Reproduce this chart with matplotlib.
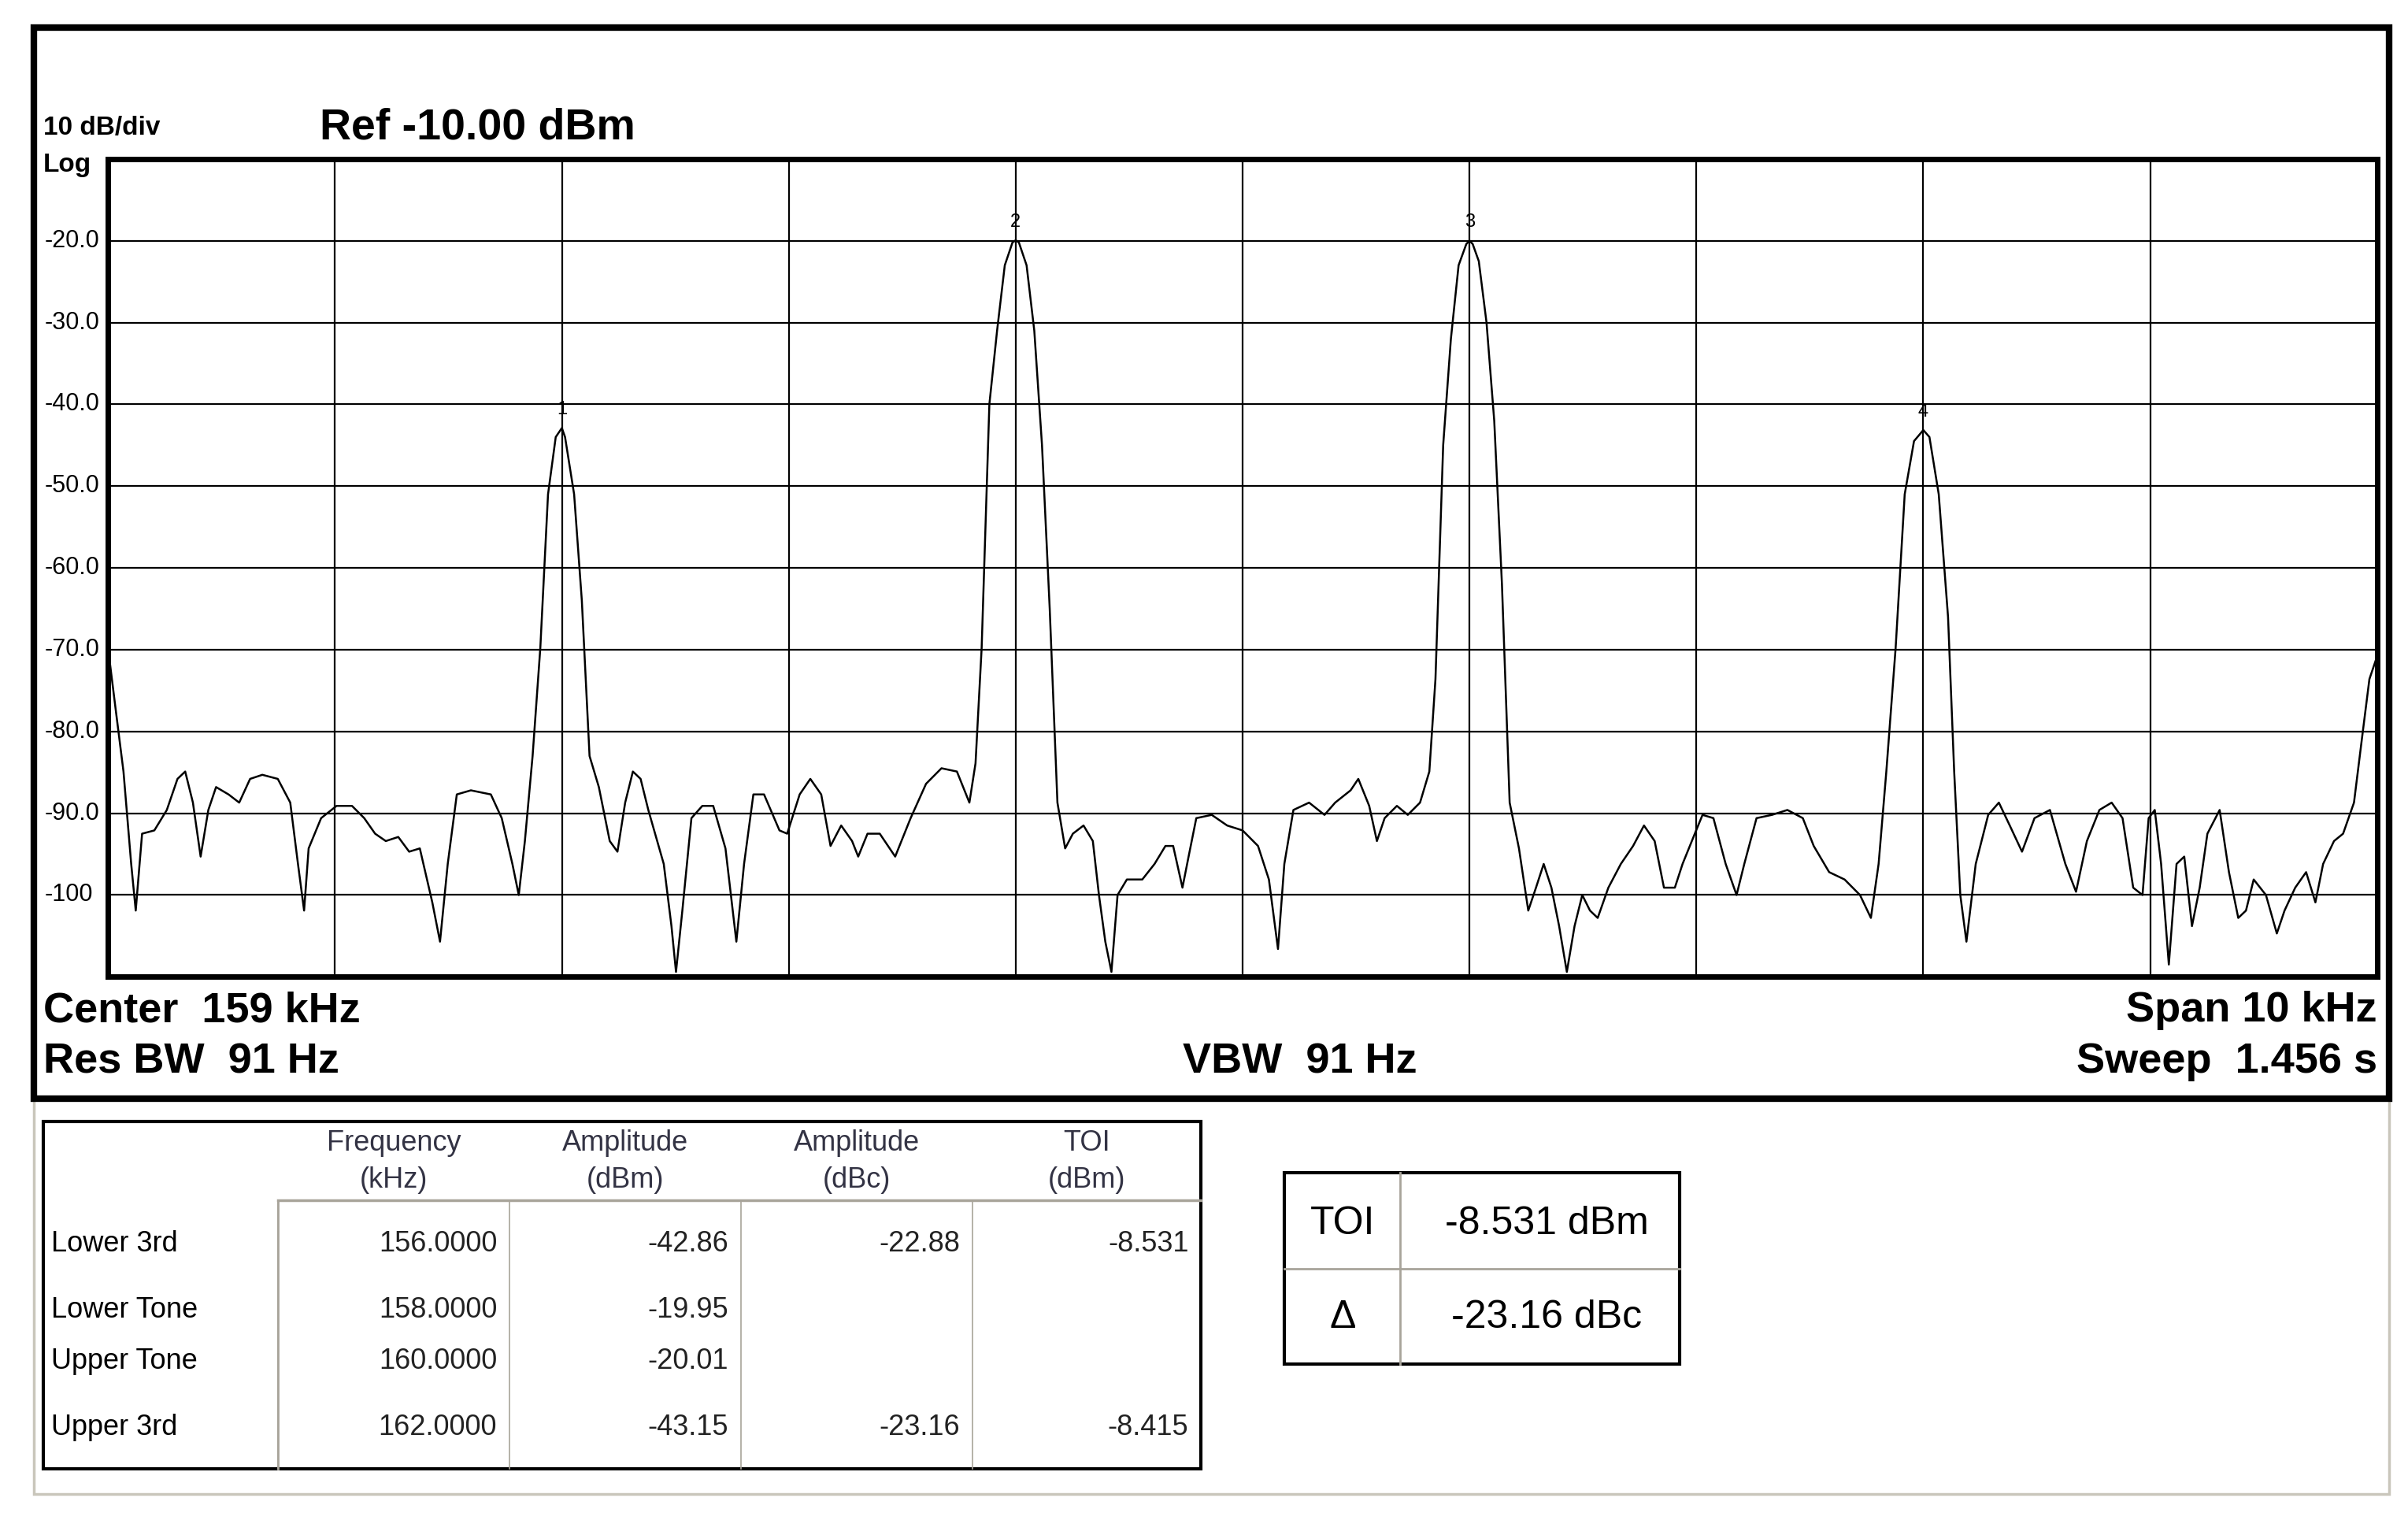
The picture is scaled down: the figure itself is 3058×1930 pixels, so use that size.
import matplotlib
matplotlib.use("Agg")
import matplotlib.pyplot as plt
from matplotlib.patches import Rectangle
from matplotlib.lines import Line2D

plt.rcParams['font.family'] = ['Liberation Sans', 'DejaVu Sans']

# ---- data ----
start_khz = 154.0
span_khz = 10.0
ref_dbm = -10.0
db_per_div = 10.0

freq_offset = [0.000,0.034,0.068,0.102,0.122,0.150,0.204,0.259,0.306,0.340,0.374,0.408,0.442,0.476,0.531,0.578,0.626,0.680,0.748,0.803,0.837,0.864,0.884,0.939,1.007,1.075,1.129,1.177,1.224,1.279,1.327,1.374,1.429,1.463,1.497,1.537,1.599,1.687,1.735,1.782,1.810,1.837,1.871,1.905,1.939,1.973,2.000,2.014,2.054,2.088,2.122,2.163,2.211,2.245,2.279,2.313,2.347,2.381,2.449,2.483,2.503,2.531,2.571,2.619,2.667,2.721,2.769,2.803,2.844,2.891,2.959,2.993,3.048,3.095,3.143,3.184,3.231,3.279,3.306,3.347,3.401,3.469,3.537,3.605,3.673,3.741,3.796,3.823,3.850,3.884,3.918,3.952,3.986,4.000,4.014,4.048,4.082,4.116,4.150,4.184,4.218,4.252,4.299,4.340,4.367,4.395,4.422,4.449,4.490,4.558,4.612,4.660,4.694,4.735,4.762,4.796,4.864,4.932,5.000,5.068,5.116,5.156,5.184,5.224,5.293,5.361,5.408,5.476,5.510,5.558,5.592,5.626,5.680,5.728,5.782,5.823,5.850,5.884,5.918,5.952,5.986,6.000,6.014,6.041,6.075,6.109,6.143,6.177,6.218,6.259,6.293,6.327,6.361,6.395,6.429,6.463,6.497,6.531,6.565,6.612,6.667,6.721,6.769,6.816,6.857,6.905,6.939,6.993,7.027,7.075,7.129,7.177,7.211,7.265,7.333,7.401,7.469,7.517,7.585,7.653,7.721,7.769,7.803,7.837,7.878,7.918,7.959,8.000,8.027,8.068,8.109,8.136,8.163,8.190,8.231,8.286,8.333,8.381,8.435,8.490,8.558,8.626,8.673,8.721,8.776,8.830,8.878,8.925,8.966,8.993,9.020,9.048,9.082,9.116,9.150,9.184,9.218,9.252,9.306,9.347,9.388,9.422,9.456,9.510,9.558,9.592,9.639,9.687,9.728,9.762,9.810,9.850,9.898,9.932,9.966,10.000]
amp_dbm = [-69.8,-77.4,-84.9,-96.2,-101.9,-92.5,-92.1,-89.6,-85.8,-84.9,-88.7,-95.3,-89.6,-86.8,-87.7,-88.7,-85.8,-85.3,-85.8,-88.7,-96.2,-101.9,-94.3,-90.6,-89.1,-89.1,-90.6,-92.5,-93.4,-92.9,-94.7,-94.3,-100.9,-105.7,-96.2,-87.7,-87.2,-87.7,-90.6,-96.2,-100.0,-93.4,-83.0,-69.8,-51.0,-44.0,-42.9,-44.0,-51.0,-64.0,-83.0,-86.8,-93.4,-94.7,-88.7,-84.9,-85.8,-89.6,-96.2,-103.8,-109.4,-101.9,-90.6,-89.1,-89.1,-94.3,-105.7,-96.2,-87.7,-87.7,-92.1,-92.5,-87.7,-85.8,-87.7,-94.0,-91.5,-93.4,-95.3,-92.5,-92.5,-95.3,-90.6,-86.4,-84.5,-84.9,-88.7,-83.9,-69.8,-40.0,-31.0,-23.0,-20.2,-19.95,-20.2,-23.0,-31.0,-45.0,-65.0,-88.7,-94.3,-92.5,-91.5,-93.4,-100.0,-105.7,-109.4,-100.0,-98.1,-98.1,-96.2,-94.0,-94.0,-99.1,-95.3,-90.6,-90.2,-91.5,-92.1,-94.0,-98.1,-106.6,-96.2,-89.6,-88.7,-90.2,-88.7,-87.2,-85.8,-89.1,-93.4,-90.6,-89.1,-90.2,-88.7,-84.9,-73.6,-45.0,-32.0,-23.0,-20.4,-20.0,-20.4,-22.5,-30.0,-42.0,-62.0,-88.7,-94.3,-101.9,-99.1,-96.2,-99.1,-103.8,-109.4,-103.8,-100.0,-101.9,-102.8,-99.1,-96.2,-94.0,-91.5,-93.4,-99.1,-99.1,-96.2,-92.5,-90.2,-90.6,-96.2,-100.0,-96.2,-90.6,-90.2,-89.6,-90.6,-94.0,-97.2,-98.1,-100.0,-102.8,-96.2,-84.9,-69.8,-51.0,-44.5,-43.15,-44.0,-51.0,-66.0,-84.9,-100.0,-105.7,-96.2,-90.2,-88.7,-91.5,-94.7,-90.6,-89.6,-96.2,-99.6,-93.4,-89.6,-88.7,-90.6,-99.1,-100.0,-90.6,-89.6,-96.2,-108.5,-96.2,-95.3,-103.8,-99.1,-92.5,-89.6,-97.2,-102.8,-101.9,-98.1,-100.0,-104.7,-101.9,-99.1,-97.2,-100.9,-96.2,-93.4,-92.5,-88.7,-81.1,-73.6,-70.8]

marker_freq = [156.0, 158.0, 160.0, 162.0]
marker_amp = [-42.86, -19.95, -20.01, -43.15]
marker_label = ["1", "2", "3", "4"]

row_names = ["Lower 3rd", "Lower Tone", "Upper Tone", "Upper 3rd"]
col_freq = ["156.0000", "158.0000", "160.0000", "162.0000"]
col_amp_dbm = ["-42.86", "-19.95", "-20.01", "-43.15"]
col_amp_dbc = ["-22.88", "", "", "-23.16"]
col_toi = ["-8.531", "", "", "-8.415"]
headers = [("Frequency", "(kHz)"), ("Amplitude", "(dBm)"), ("Amplitude", "(dBc)"), ("TOI", "(dBm)")]
toi_summary = [("TOI", "-8.531 dBm"), ("Δ", "-23.16 dBc")]

# ---- layout helpers (reference measured on a 1560x985 grid) ----
W, H = 1560.0, 985.0
def fx(x): return x / W
def fy(y): return 1 - y / H

fig = plt.figure(figsize=(30.58, 19.30), dpi=100)
fig.patch.set_facecolor('white')

def frect(x0, y0, x1, y1, lw, ec, fc='none', z=0):
    fig.patches.append(Rectangle((fx(x0), fy(y1)), fx(x1) - fx(x0), fy(y0) - fy(y1),
                                 transform=fig.transFigure, lw=lw, ec=ec, fc=fc, zorder=z))
def fline(x0, y0, x1, y1, lw=1.2, c='#a8a49a'):
    fig.lines.append(Line2D([fx(x0), fx(x1)], [fy(y0), fy(y1)], transform=fig.transFigure, lw=lw, color=c))

# outer panels
frect(22, 712, 1548, 968, 2.5, '#c9c6bb')
frect(22, 18, 1548, 712, 6, 'black')

# spectrum axes
ax = fig.add_axes([fx(70), fy(633), fx(1540) - fx(70), fy(103) - fy(633)])
freqs = [start_khz + f for f in freq_offset]
ax.plot(freqs, amp_dbm, color='black', lw=1.8, solid_joinstyle='round')
ax.set_xlim(start_khz, start_khz + span_khz)
ax.set_ylim(ref_dbm - 10 * db_per_div, ref_dbm)
ax.set_xticks([start_khz + i for i in range(11)])
ax.set_yticks([ref_dbm - db_per_div * i for i in range(11)])
ax.grid(True, color='black', lw=1.6)
ax.tick_params(length=0, labelbottom=False, labelleft=False)
for s in ax.spines.values():
    s.set_linewidth(5)
for f, a, l in zip(marker_freq, marker_amp, marker_label):
    ax.text(f, a + 1.2, l, ha='center', va='bottom', fontsize=17)

# y labels at left
for i in range(1, 10):
    v = ref_dbm - db_per_div * i
    lab = f"{v:.1f}" if v > -100 else f"{v:.0f}"
    ax.text(-0.028, v, lab, transform=ax.get_yaxis_transform(), ha='left', va='center', fontsize=22)

fig.text(fx(28), fy(83), "10 dB/div", fontsize=24, fontweight='bold', va='center', ha='left')
fig.text(fx(28), fy(107), "Log", fontsize=24, fontweight='bold', va='center', ha='left')
fig.text(fx(207), fy(83), "Ref -10.00 dBm", fontsize=40, fontweight='bold', va='center', ha='left')
big = 39
fig.text(fx(28), fy(655), "Center  159 kHz", fontsize=big, fontweight='bold', va='center', ha='left')
fig.text(fx(28), fy(688), "Res BW  91 Hz", fontsize=big, fontweight='bold', va='center', ha='left')
fig.text(fx(766), fy(688), "VBW  91 Hz", fontsize=big, fontweight='bold', va='center', ha='left')
fig.text(fx(1540), fy(655), "Span 10 kHz", fontsize=big, fontweight='bold', va='center', ha='right')
fig.text(fx(1540), fy(688), "Sweep  1.456 s", fontsize=big, fontweight='bold', va='center', ha='right')

# results table
frect(28, 727, 778, 952, 3, 'black')
cols = [28, 180, 330, 480, 630, 778]
fline(180, 778, 778, 778, 2.5)
for cx in cols[1:-1]:
    fline(cx, 778, cx, 952)
fline(180, 778, 180, 952, 2)
hdr_color = '#333344'
ts = 26
for i, (h1, h2) in enumerate(headers):
    cxm = (cols[i + 1] + cols[i + 2]) / 2
    fig.text(fx(cxm), fy(741), h1, fontsize=ts, ha='center', va='center', color=hdr_color)
    fig.text(fx(cxm), fy(765), h2, fontsize=ts, ha='center', va='center', color=hdr_color)
row_y = [806, 849, 882, 925]
for j, y in enumerate(row_y):
    fig.text(fx(33), fy(y), row_names[j], fontsize=ts, ha='left', va='center')
    for k, col in enumerate([col_freq, col_amp_dbm, col_amp_dbc, col_toi]):
        fig.text(fx(cols[k + 2] - 8), fy(y), col[j], fontsize=ts, ha='right', va='center', color='#222222')

# TOI summary box
frect(832, 760, 1088, 884, 3, 'black')
fline(907, 760, 907, 884, 2)
fline(832, 822, 1088, 822, 2)
for j, (a, b) in enumerate(toi_summary):
    y = 793 + 61 * j
    fig.text(fx(870), fy(y), a, fontsize=36, ha='center', va='center')
    fig.text(fx(1002), fy(y), b, fontsize=36, ha='center', va='center')

fig.savefig("out.png", dpi=100)
